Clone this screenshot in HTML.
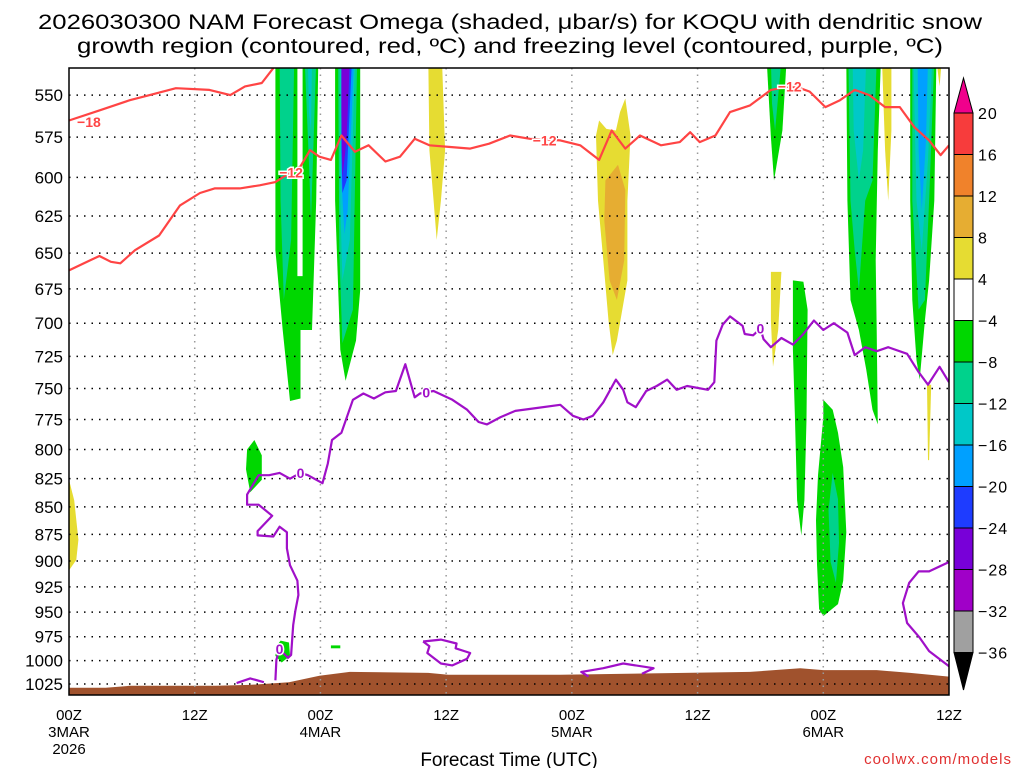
<!DOCTYPE html>
<html><head><meta charset="utf-8"><style>
html,body{margin:0;padding:0;background:#fff;}
svg{display:block;font-family:"Liberation Sans",sans-serif;}
</style></head><body>
<svg id="chart" width="1024" height="768" viewBox="0 0 1024 768" xmlns="http://www.w3.org/2000/svg">
<rect width="1024" height="768" fill="#fff"/>
<text x="510" y="29" text-anchor="middle" font-size="21" textLength="944" lengthAdjust="spacingAndGlyphs">2026030300 NAM Forecast Omega (shaded, μbar/s) for KOQU with dendritic snow</text>
<text x="510" y="53" text-anchor="middle" font-size="21" textLength="866" lengthAdjust="spacingAndGlyphs">growth region (contoured, red, ºC) and freezing level (contoured, purple, ºC)</text>
<defs><clipPath id="plotclip"><rect x="69" y="68" width="880" height="627"/></clipPath></defs>
<g id="shading" clip-path="url(#plotclip)"></g>
<g id="ground" clip-path="url(#plotclip)"></g>
<g id="grid"></g>
<g id="contours" clip-path="url(#plotclip)"></g>
<g id="labels"></g>
<rect x="69" y="68" width="880" height="627" fill="none" stroke="#000" stroke-width="1.5"/>
<g id="yaxis"></g>
<g id="xaxis"></g>
<text x="509" y="766" text-anchor="middle" font-size="19">Forecast Time (UTC)</text>
<text x="1012" y="764" text-anchor="end" font-size="15" fill="#e03030" letter-spacing="1">coolwx.com/models</text>
<g id="colorbar"></g>
</svg>
<script>
// ---- data ----
const pressureTicks = [550,575,600,625,650,675,700,725,750,775,800,825,850,875,900,925,950,975,1000,1025];
const timeTicks = [0,12,24,36,48,60,72,84];
const timeTickLabels = ["00Z","12Z","00Z","12Z","00Z","12Z","00Z","12Z"];
const dateLabels = ["3MAR","","4MAR","","5MAR","","6MAR",""];
const cbLevels = ["20","16","12","8","4","-4","-8","-12","-16","-20","-24","-28","-32","-36"];
const cbColors = ["#f73c3c","#f0822b","#e6ad32","#e6dc32","#ffffff","#00d700","#00d28c","#00c8c8","#00a0ff","#1e3cff","#7800d8","#a000c8","#a0a0a0"];
const levelColor = {y:"#e6dc32",gold:"#e6ad32",g:"#00d700",t:"#00d28c",c:"#00c8c8",d:"#00a0ff",b:"#1e3cff",p:"#7800d8"};
const blobLevels = ["g","t","t","c","g","t","c","d","b","p","y","y","gold","y","g","g","t","g","t","g","t","c","y","g","t","c","d","y","y","g","g","g","y"];
const blobPoints = [
[[19.7,530],[21.8,530],[21.8,666],[22.3,666],[22.3,530],[23.8,530],[23.6,615],[23.2,705],[22.1,705],[22.1,758],[21.1,760],[20.4,705],[19.7,648]],
[[20.1,530],[21.5,530],[21.2,641],[20.5,683],[20.2,615]],
[[22.5,530],[23.6,530],[23.1,628],[22.9,590]],
[[22.8,530],[23.2,530],[23.1,571],[22.9,560]],
[[25.4,530],[27.8,530],[27.8,676],[27.4,713],[26.4,744],[25.9,720],[25.4,615]],
[[25.7,530],[27.5,530],[27.1,690],[26.1,715],[25.8,648]],
[[25.9,530],[27.3,530],[26.8,641],[26.1,669],[25.9,615]],
[[26,530],[27.2,530],[26.6,621],[26.3,637],[26,602]],
[[26,530],[27,530],[26.5,602],[26.1,610],[26,583]],
[[26,530],[26.8,530],[26.5,577],[26.1,600],[26,560]],
[[34.3,530],[35.6,530],[35.9,583],[35.5,615],[35.1,641],[34.8,615],[34.4,583]],
[[53.1,552],[53.6,574],[53.3,615],[53.3,669],[52.3,713],[51.9,724],[51.5,698],[51,655],[50.5,615],[50.3,574],[50.6,565],[51.3,570],[52.2,571],[52.6,560]],
[[51.2,602],[52.4,592],[53.1,608],[53,655],[52.3,683],[51.6,669],[51.1,628]],
[[67,663],[68,663],[67.7,705],[67.2,733],[67,698]],
[[69.1,669],[70.1,670],[70.5,690],[70.4,775],[70.2,844],[69.9,876],[69.5,844],[69.3,775],[69.1,720]],
[[72,759],[72.9,767],[73.4,786],[73.9,815],[74.2,873],[73.9,919],[73.4,942],[72,954],[71.6,947],[71.4,903],[71.3,862],[71.5,822],[72,773]],
[[72.9,820],[73.4,843],[73.5,883],[73.2,921],[72.7,901],[72.5,853]],
[[66.6,530],[68.5,530],[68.1,571],[67.3,602],[67,575]],
[[67,530],[68,530],[67.4,571],[67.1,555]],
[[74.2,530],[77.5,530],[77.2,583],[77,655],[77.1,705],[77.2,779],[76.7,767],[76.1,735],[75.4,705],[74.6,683],[74.3,615]],
[[74.4,530],[77.1,530],[76.7,602],[76,615],[75.4,676],[75,648],[74.6,615]],
[[74.8,530],[76.1,530],[75.8,583],[75.4,602],[74.9,571]],
[[77.6,530],[78.5,530],[78.5,571],[78.2,615],[77.9,583]],
[[80.3,530],[82.8,530],[82.6,615],[82.1,669],[81.7,698],[81.2,743],[80.9,728],[80.5,683],[80.3,615]],
[[80.5,530],[82.6,530],[82.1,615],[81.7,683],[81.1,690],[80.5,615]],
[[80.6,530],[82.4,530],[82,589],[81.4,648],[80.9,615]],
[[81,530],[82,530],[81.8,577],[81.4,621],[81.1,583]],
[[82.8,530],[83.3,530],[83.1,545]],
[[81.9,747],[82.3,747],[82.1,809],[82,809]],
[[17.7,792],[18.4,805],[18.4,826],[17.3,837],[16.9,817],[17,800]],
[[20.2,979],[21,981],[21.1,995],[20.3,1002],[19.7,995],[19.8,985]],
[[25,984],[25.9,984],[25.9,987],[25,987]],
[[0,826],[0.5,844],[0.9,880],[0.7,899],[0,909]]
];
const groundHours = [0,3.5,5.8,14,17.2,21,23.9,26.8,34.3,36.2,46.9,65,69.8,72,77.1,80.3,84];
const groundPres = [1029,1029,1027,1027,1026,1023,1016,1012,1013,1015,1015,1012,1008,1010,1010,1013,1017];
const redUpper = [[0,565],[2.9,559],[5.8,553],[7.7,550],[10.2,546],[13.4,547],[15.4,550],[16.8,545],[18.4,543],[19.7,533]];
const redLower = [[0,662],[2,655],[2.9,652],[4,656],[4.9,657],[6.3,648],[8.6,638],[10.6,618],[12.5,610],[13.9,607],[16.3,607],[18.2,605],[19.7,603],[21.1,597],[22.1,593],[23,583],[23.9,587],[25,589],[26,574],[27.3,584],[28.6,580],[30.2,590],[31.6,587],[33,576],[34.4,580],[36.4,581],[38.3,582],[40.1,579],[42.1,574],[44,576],[46.9,577],[48.8,580],[50.6,589],[51.8,571],[53.1,582],[54.5,574],[56.5,580],[58.3,578],[59.3,572],[60.2,578],[61.7,574],[63.1,560],[65,556],[67,547],[68.8,545],[69.8,546],[70.7,548],[72.2,557],[73.6,553],[75,547],[76.4,550],[77.9,557],[79.3,557],[80.7,569],[82.1,577],[83.2,586],[84,580]];
const purpleMain = [[19.7,1021],[19.8,999],[20.1,988],[20.9,997],[21.2,994],[21.4,963],[21.6,949],[21.9,933],[21.8,919],[21.1,904],[20.8,888],[20.8,873],[20.1,868],[19.5,877],[18,876],[18,872],[19.4,858],[18.1,848],[17,848],[17,839],[18.1,822],[19.1,822],[20.1,820],[21.1,825],[22.1,820],[22.8,822],[24.2,829],[24.7,812],[25.1,792],[26,786],[27.1,759],[28.1,754],[29.1,758],[30.2,753],[31.2,752],[32.1,731],[33,757],[33.5,754],[34.1,753],[34.8,752],[36.6,759],[38,767],[39.1,777],[39.9,779],[41.2,773],[42.6,768],[44.3,766],[46.9,763],[48.1,772],[49.1,775],[50,772],[51,761],[52.2,743],[52.9,751],[53.3,761],[54.1,765],[55.1,752],[56.1,748],[57.1,743],[58,751],[59,748],[61,751],[61.6,745],[61.8,713],[62.4,701],[63.1,695],[64.3,702],[64.5,708],[65.3,709],[66,704],[66.3,712],[67,718],[68,711],[69.1,716],[70.1,708],[71.1,698],[72,705],[73,700],[74.3,707],[75,724],[76,718],[77.1,721],[78.2,718],[80,723],[81.1,737],[82,747],[83.1,733],[84,745]];
const purpleSmall = [[16,1024],[17.3,1019],[18.6,1023]];
const purpleLoop12Z = [[33.8,980],[35.5,978],[37,982],[36.9,987],[38.3,992],[38,998],[36.6,1005],[35.5,1003],[34.2,992],[34.4,985],[33.8,980]];
const purpleLoop5Mar = [[49.6,1017],[48.9,1012],[51,1008],[52.9,1003],[55.8,1008],[54.7,1014]];
const purpleRight = [[84,901],[82.1,910],[81.1,910],[80.2,921],[79.6,941],[80,961],[81.2,976],[82.1,990],[84,1006]];
const redLabels = [["-18",1.9,566],["-12",21.2,597],["-12",45.4,577],["-12",68.8,545]];
const purpleLabels = [["0",22.1,820],["0",34.1,753],["0",66,704],["0",20.1,988]];

// ---- axes ----
const X0=69, X1=949, YB=684, K=946, HMAX=84;
const X = h => X0 + h*(X1-X0)/HMAX;
const Y = p => YB - K*Math.log(1025/p);
const NS="http://www.w3.org/2000/svg";
function mk(tag, attrs, parent){const e=document.createElementNS(NS,tag);for(const k in attrs)e.setAttribute(k,attrs[k]);parent.appendChild(e);return e;}
const pts = arr => arr.map(d=>X(d[0]).toFixed(1)+","+Y(d[1]).toFixed(1)).join(" ");

const gShade=document.getElementById("shading");
blobPoints.forEach((b,i)=>{
  const e=mk("polygon",{points:pts(b),fill:levelColor[blobLevels[i]]},gShade);
  
  
});

const gGround=document.getElementById("ground");
{
  let d="M"+X(groundHours[0])+",700 ";
  groundHours.forEach((h,i)=>{d+="L"+X(h).toFixed(1)+","+Y(groundPres[i]).toFixed(1)+" ";});
  d+="L"+X(groundHours[groundHours.length-1])+",700 Z";
  const e=mk("path",{d:d,fill:"#a0522d"},gGround);
  
  
}

const gGrid=document.getElementById("grid");
pressureTicks.forEach(p=>{
  const e=mk("line",{x1:X0,x2:X1,y1:Y(p),y2:Y(p),stroke:"#000","stroke-width":1.5,"stroke-dasharray":"1.5 6"},gGrid);
  
  
});
timeTicks.slice(1,-1).forEach(h=>{
  const e=mk("line",{x1:X(h),x2:X(h),y1:68,y2:695,stroke:"#999","stroke-width":1.5,"stroke-dasharray":"1.5 5"},gGrid);
  
  
});

const gC=document.getElementById("contours");
function line(arr,color,name){
  const e=mk("polyline",{points:pts(arr),fill:"none",stroke:color,"stroke-width":2.2,"stroke-linejoin":"round"},gC);
  
  
}
line(redUpper,"#f44","dgz-contour-minus18");
line(redLower,"#f44","dgz-contour-minus12");
line(purpleMain,"#a010c8","freezing-level-contour");
line(purpleSmall,"#a010c8","freezing-level-contour-small");
line(purpleLoop12Z,"#a010c8","freezing-level-loop");
line(purpleLoop5Mar,"#a010c8","freezing-level-loop-2");
line(purpleRight,"#a010c8","freezing-level-contour-right");

const gL=document.getElementById("labels");
function lab(arr,color,name){
  arr.forEach(d=>{
    const e=mk("text",{x:X(d[1]),y:Y(d[2])+5,"text-anchor":"middle","font-size":14,"font-weight":"bold",fill:color,stroke:"#fff","stroke-width":3,"paint-order":"stroke"},gL);
    e.textContent=d[0].replace("-","−");
    
    
  });
}
lab(redLabels,"#f44","red-contour-label");
lab(purpleLabels,"#a010c8","purple-contour-label");

const gY=document.getElementById("yaxis");
pressureTicks.forEach(p=>{
  const e=mk("text",{x:63,y:Y(p)+6,"text-anchor":"end","font-size":17},gY);
  e.textContent=p;
  
  
});
const gX=document.getElementById("xaxis");
timeTicks.forEach((h,i)=>{
  const e=mk("text",{x:X(h),y:720,"text-anchor":"middle","font-size":15},gX);
  e.textContent=timeTickLabels[i];
  
  
  if(dateLabels[i]){
    const f=mk("text",{x:X(h),y:737,"text-anchor":"middle","font-size":15},gX);
    f.textContent=dateLabels[i];
    
    
  }
});
{
  const e=mk("text",{x:X(0),y:754,"text-anchor":"middle","font-size":15},gX);
  e.textContent="2026";
  
  
}

const gCB=document.getElementById("colorbar");
const cbX=954, cbW=19, cbTop=113, cbH=41.5;
{
  const t=mk("polygon",{points:`${cbX},${cbTop} ${cbX+cbW},${cbTop} ${cbX+cbW/2},78`,fill:"#f0008c",stroke:"#000","stroke-width":1},gCB);
  
  
  const yb=cbTop+cbColors.length*cbH;
  const b=mk("polygon",{points:`${cbX},${yb} ${cbX+cbW},${yb} ${cbX+cbW/2},690`,fill:"#000",stroke:"#000","stroke-width":1},gCB);
  
  
}
cbColors.forEach((c,i)=>{
  const e=mk("rect",{x:cbX,y:cbTop+i*cbH,width:cbW,height:cbH,fill:c,stroke:"#000","stroke-width":1},gCB);
  
  
});
cbLevels.forEach((l,i)=>{
  const e=mk("text",{x:978,y:cbTop+i*cbH+6,"font-size":16,"letter-spacing":"1"},gCB);
  e.textContent=l.replace("-","−");
  
  
});
</script>
</body></html>
